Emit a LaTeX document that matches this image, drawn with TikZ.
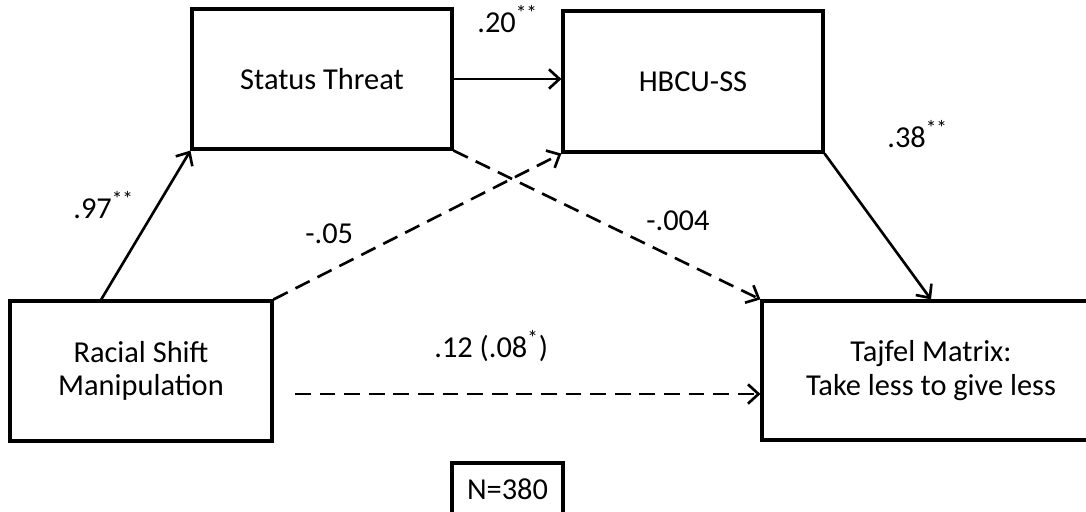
\documentclass[tikz,border=0pt]{standalone}
\usepackage{fontspec}
\setmainfont{Carlito}
\usetikzlibrary{arrows.meta,calc}

\tikzset{
  varbox/.style={draw, line width=1.8pt, align=center, inner sep=0pt,
    font=\fontsize{17.3}{19}\selectfont},
  coef/.style={inner sep=0pt, font=\fontsize{17.3}{19}\selectfont},
  solidarr/.style={line width=1.5pt, -{Straight Barb[length=6pt,width=11pt]}},
  dasharr/.style={solidarr, dash pattern=on 9pt off 5pt}
}

\begin{document}
\begin{tikzpicture}[x=0.02cm, y=-0.02cm]
            \useasboundingbox (0,0) rectangle (1086,511);
            \clip (0,0) rectangle (1086,511);

            % draw boxes
            \node[varbox, minimum width=5.2cm, minimum height=2.8cm] (st) at (322,79) {Status Threat};
            \node[varbox, minimum width=5.2cm, minimum height=2.82cm] (hbcu) at (693,81.5) {HBCU-SS};
            \node[varbox, minimum width=5.24cm, minimum height=2.8cm] (rsm) at (141,371) {Racial Shift\\Manipulation};
            \node[varbox, minimum width=6.76cm, minimum height=2.78cm] (tm) at (931,370.5) {Tajfel Matrix:\\Take less to give less};
            \node[coef] (n) at (507.5,489) {N=380};
            \draw[line width=1.8pt] (n.center) ++(-55.5,-26) rectangle ++(111,70);

            % draw paths
            \draw[solidarr] ($(rsm.north west)!0.35!(rsm.north east)$) -- (st.south west);
            \draw[solidarr] (st.east) -- (st.east -| hbcu.west);
            \draw[dasharr] (rsm.north east) -- (hbcu.south west);
            \draw[dasharr] (st.south east) -- (tm.north west);
            \draw[solidarr] (hbcu.south east) -- (tm.north);
            \coordinate (dstart) at (295,394);
            \draw[dasharr] (dstart) -- (dstart -| tm.west);

            % draw coefficients
            \node[coef, anchor=base west] (c20) at (477,32) {.20\textsuperscript{**}};
            \node[coef, anchor=base west] (c97) at (73,218) {.97\textsuperscript{**}};
            \node[coef, anchor=base west] (c05) at (305,243) {-.05};
            \node[coef, anchor=base west] (c004) at (646,230) {-.004};
            \node[coef, anchor=base west] (c38) at (887,147) {.38\textsuperscript{**}};
            \node[coef, anchor=base west] (c12) at (434,357) {.12 (.08\textsuperscript{*})};
\end{tikzpicture}
\end{document}
